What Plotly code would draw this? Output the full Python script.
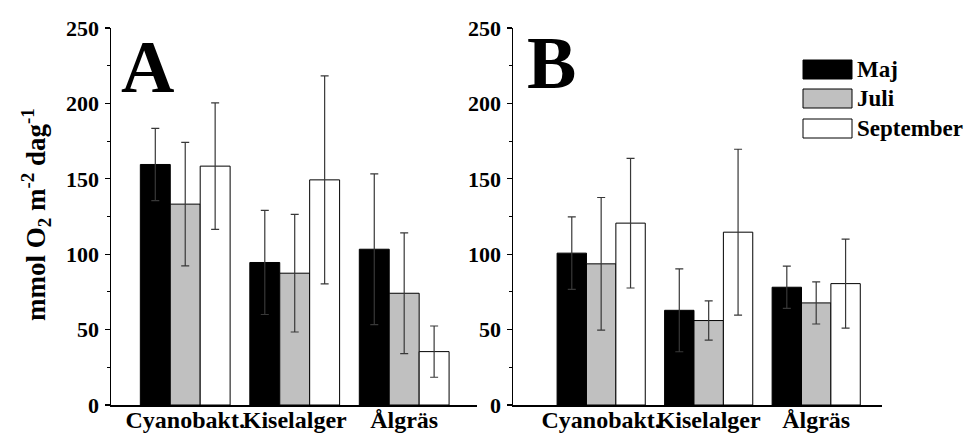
import plotly.graph_objects as go

categories = ["Cyanobakt.", "Kiselalger", "Ålgräs"]
months = ["Maj", "Juli", "September"]
colors = ["#000000", "#c0c0c0", "#ffffff"]

# Panel A
a_maj = [159.5, 94.5, 103.3]
a_maj_err = [24, 34.5, 50]
a_juli = [133.2, 87.4, 74.1]
a_juli_err = [41, 39, 40]
a_sep = [158.4, 149.3, 35.4]
a_sep_err = [42, 69, 17]

# Panel B
b_maj = [100.7, 62.8, 78.1]
b_maj_err = [24, 27.5, 14]
b_juli = [93.6, 56.0, 67.7]
b_juli_err = [44, 13, 14]
b_sep = [120.6, 114.6, 80.5]
b_sep_err = [43, 55, 29.5]

y_ticks = [0, 50, 100, 150, 200, 250]

FONT = "Liberation Serif"
W, H = 971, 434
ML, MR, MT, MB = 0, 0, 28, 29

fig = go.Figure()

panelA = [a_maj, a_juli, a_sep]
panelA_err = [a_maj_err, a_juli_err, a_sep_err]
panelB = [b_maj, b_juli, b_sep]
panelB_err = [b_maj_err, b_juli_err, b_sep_err]

for vals, errs, xa, ya in [(panelA, panelA_err, "x", "y"), (panelB, panelB_err, "x2", "y2")]:
    for m, v, e, c in zip(months, vals, errs, colors):
        fig.add_trace(go.Bar(
            x=categories, y=v, name=m, marker=dict(color=c, line=dict(color="black", width=1)),
            error_y=dict(type="data", array=e, color="#383838", thickness=1.2, width=4),
            xaxis=xa, yaxis=ya, showlegend=False, offsetgroup=m, hoverinfo="skip",
        ))

def px_x(p):
    return (p - ML) / (W - ML - MR)

def px_y(p):
    return (H - MB - p) / (H - MT - MB)

yaxis_common = dict(
    range=[0, 250], tickvals=y_ticks, showline=True, linecolor="black", linewidth=1.5,
    ticks="outside", ticklen=5, tickwidth=1.2, tickcolor="black",
    minor=dict(dtick=25, ticks="outside", ticklen=3, tickcolor="black", tickwidth=1),
    showgrid=False, zeroline=False,
    tickfont=dict(family=FONT, size=22, color="black", weight="bold"),
    automargin=False, ticklabelstandoff=1,
)
xaxis_common = dict(
    showline=True, linecolor="black", linewidth=1.5, ticks="", showgrid=False,
    tickfont=dict(family=FONT, size=24, color="black", weight="bold"),
    automargin=False, type="category", ticklabelstandoff=-7, tickangle=0,
)

fig.update_layout(
    width=W, height=H, margin=dict(l=ML, r=MR, t=MT, b=MB),
    paper_bgcolor="white", plot_bgcolor="white",
    barmode="group", bargap=0.18, bargroupgap=0,
    xaxis=dict(domain=[px_x(111), px_x(477)], range=[-0.678, 2.665], anchor="y", **xaxis_common),
    yaxis=dict(domain=[0, 1], anchor="x", **yaxis_common),
    xaxis2=dict(domain=[px_x(513), px_x(882)], range=[-0.82, 2.612], anchor="y2", **xaxis_common),
    yaxis2=dict(domain=[0, 1], anchor="x2", **yaxis_common),
    showlegend=False,
)

# Legend drawn manually
leg_rows = [(60, 79), (89, 108), (119, 138)]
for (t, b), m, c in zip(leg_rows, months, colors):
    fig.add_shape(type="rect", xref="paper", yref="paper",
                  x0=px_x(803), x1=px_x(852), y0=px_y(b), y1=px_y(t),
                  fillcolor=c, line=dict(color="black", width=1))
    fig.add_annotation(xref="paper", yref="paper", x=px_x(855), y=px_y((t + b) / 2),
                       xanchor="left", yanchor="middle", text=m, showarrow=False,
                       font=dict(family=FONT, size=23, color="black", weight="bold"))

# Panel letters
fig.add_annotation(xref="paper", yref="paper", x=px_x(147.5), y=px_y(67), text="A",
                   showarrow=False, xanchor="center", yanchor="middle",
                   font=dict(family=FONT, size=74, color="black", weight="bold"))
fig.add_annotation(xref="paper", yref="paper", x=px_x(551.5), y=px_y(63), text="B",
                   showarrow=False, xanchor="center", yanchor="middle",
                   font=dict(family=FONT, size=74, color="black", weight="bold"))

# Y axis title
fig.add_annotation(xref="paper", yref="paper", x=px_x(36), y=px_y(215),
                   text="mmol O<sub>2</sub> m<sup>-2</sup> dag<sup>-1</sup>", textangle=-90,
                   showarrow=False, xanchor="center", yanchor="middle",
                   font=dict(family=FONT, size=27, color="black", weight="bold"))

fig.write_html("out.html", config={"displayModeBar": False, "staticPlot": True},
               post_script="document.body.style.margin='0';document.body.style.overflow='hidden';")
